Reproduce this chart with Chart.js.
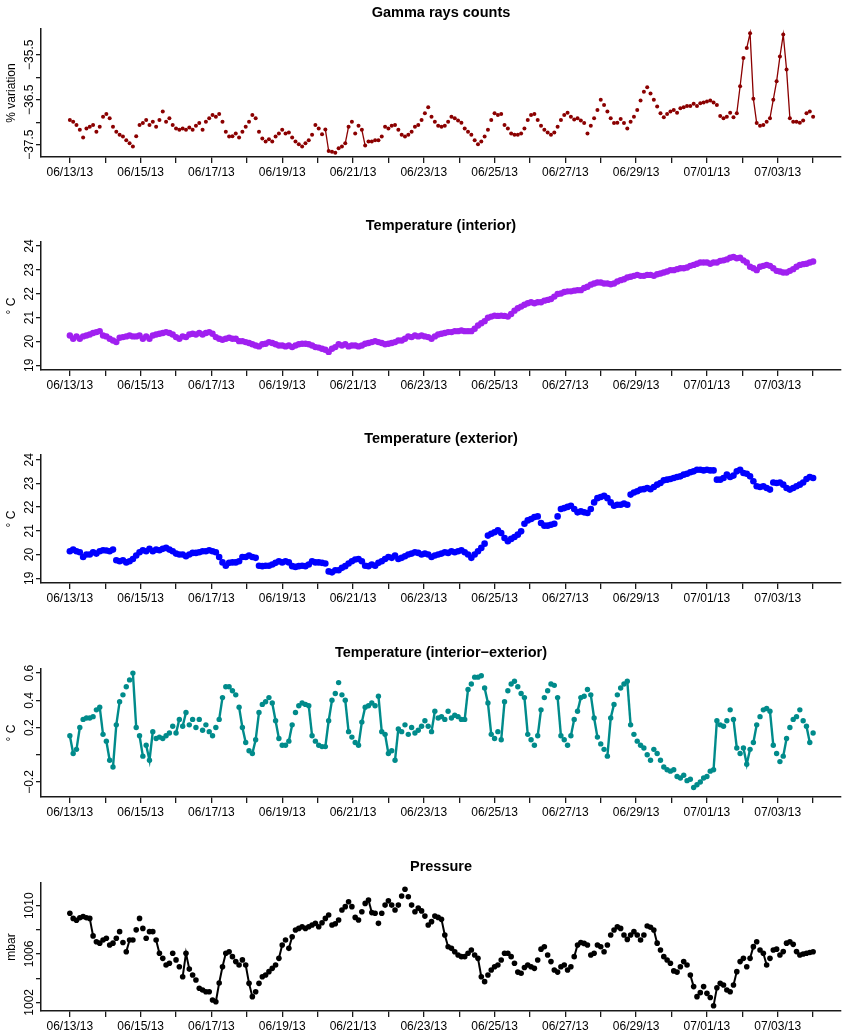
<!DOCTYPE html>
<html>
<head>
<meta charset="utf-8">
<title>Sensor panels</title>
<script src="https://cdn.jsdelivr.net/npm/chart.js@4.4.0/dist/chart.umd.min.js"></script>
<style>
  html, body { margin: 0; padding: 0; background: #fff; width: 842px; height: 1034px; overflow: hidden; }
  canvas { position: absolute; left: 0; }
</style>
</head>
<body>
<canvas id="gamma" width="845" height="186" style="top:1px"></canvas>
<canvas id="tin" width="845" height="186" style="top:214px"></canvas>
<canvas id="tout" width="845" height="186" style="top:427px"></canvas>
<canvas id="tdiff" width="845" height="186" style="top:641px"></canvas>
<canvas id="press" width="845" height="186" style="top:855px"></canvas>
<script>
// date ticks, one per day starting 06/13/13 (only every other one gets a label)
const dayLabels = ['06/13/13', '06/14/13', '06/15/13', '06/16/13', '06/17/13', '06/18/13',
  '06/19/13', '06/20/13', '06/21/13', '06/22/13', '06/23/13', '06/24/13', '06/25/13',
  '06/26/13', '06/27/13', '06/28/13', '06/29/13', '06/30/13', '07/01/13', '07/02/13',
  '07/03/13', '07/04/13'];

// readings every 2.25 h from 06/13/13 00:00
const STEP_HOURS = 2.25;

const gammaCounts = [
  -36.95, -36.99, -37.06, -37.17, -37.34, -37.14, -37.10, -37.06, -37.21, -37.10,
  -36.88, -36.82, -36.91, -37.10, -37.21, -37.28, -37.32, -37.40, -37.47, -37.54,
  -37.31, -37.06, -37.02, -36.95, -37.06, -36.99, -37.10, -36.95, -36.76, -36.99,
  -36.91, -37.06, -37.14, -37.17, -37.14, -37.17, -37.12, -37.17, -37.08, -37.02,
  -37.17, -36.99, -36.91, -36.84, -36.88, -36.82, -36.99, -37.21, -37.32, -37.31,
  -37.25, -37.34, -37.21, -37.10, -36.99, -36.84, -36.91, -37.21, -37.36, -37.43,
  -37.38, -37.43, -37.32, -37.25, -37.17, -37.25, -37.23, -37.34, -37.43, -37.49,
  -37.54, -37.47, -37.40, -37.28, -37.06, -37.14, -37.27, -37.16, -37.64, -37.66,
  -37.68, -37.58, -37.54, -37.47, -37.10, -36.99, -37.25, -37.08, -37.17, -37.52,
  -37.43, -37.43, -37.40, -37.40, -37.32, -37.10, -37.14, -37.08, -37.06, -37.17,
  -37.28, -37.32, -37.28, -37.21, -37.10, -37.06, -36.95, -36.80, -36.67, -36.88,
  -36.99, -37.08, -37.10, -37.08, -36.99, -36.88, -36.91, -36.96, -37.01, -37.14,
  -37.21, -37.28, -37.40, -37.49, -37.43, -37.32, -37.17, -36.95, -36.80, -36.84,
  -36.82, -37.06, -37.14, -37.25, -37.28, -37.28, -37.25, -37.14, -36.95, -36.84,
  -36.82, -36.95, -37.08, -37.17, -37.23, -37.28, -37.23, -37.10, -36.95, -36.84,
  -36.79, -36.88, -36.94, -36.91, -36.96, -37.02, -37.25, -37.08, -36.91, -36.73,
  -36.50, -36.62, -36.76, -36.91, -37.02, -37.01, -36.93, -37.02, -37.14, -36.99,
  -36.88, -36.73, -36.52, -36.32, -36.22, -36.36, -36.50, -36.65, -36.80, -36.89,
  -36.82, -36.76, -36.73, -36.79, -36.69, -36.67, -36.64, -36.64, -36.59, -36.64,
  -36.58, -36.56, -36.54, -36.52, -36.56, -36.62, -36.86, -36.91, -36.88, -36.79,
  -36.89, -36.80, -36.20, -35.57, -35.35, -35.02, -36.48, -37.02, -37.08, -37.06,
  -36.99, -36.91, -36.50, -36.09, -35.54, -35.05, -35.83, -36.91, -36.99, -36.99,
  -37.01, -36.96, -36.80, -36.76, -36.88
];

const tempInterior = [
  20.25, 20.11, 20.21, 20.11, 20.21, 20.25, 20.29, 20.35, 20.39, 20.43,
  20.25, 20.21, 20.11, 20.04, 19.97, 20.15, 20.18, 20.21, 20.25, 20.21,
  20.21, 20.25, 20.11, 20.21, 20.11, 20.25, 20.29, 20.32, 20.35, 20.39,
  20.35, 20.29, 20.18, 20.11, 20.21, 20.18, 20.29, 20.32, 20.29, 20.35,
  20.29, 20.35, 20.39, 20.32, 20.18, 20.11, 20.07, 20.11, 20.15, 20.11,
  20.11, 20.01, 20.01, 19.97, 19.93, 19.88, 19.83, 19.79, 19.88, 19.90,
  19.97, 19.93, 19.88, 19.83, 19.83, 19.79, 19.83, 19.76, 19.83, 19.88,
  19.90, 19.90, 19.88, 19.83, 19.76, 19.74, 19.69, 19.65, 19.56, 19.69,
  19.76, 19.88, 19.83, 19.88, 19.79, 19.83, 19.83, 19.79, 19.83, 19.90,
  19.93, 19.97, 20.01, 19.97, 19.93, 19.88, 19.90, 19.93, 19.97, 20.04,
  20.04, 20.11, 20.21, 20.18, 20.25, 20.21, 20.25, 20.21, 20.18, 20.11,
  20.21, 20.29, 20.32, 20.35, 20.39, 20.39, 20.43, 20.43, 20.46, 20.43,
  20.43, 20.43, 20.53, 20.67, 20.76, 20.85, 20.99, 21.04, 21.08, 21.07,
  21.08, 21.07, 21.04, 21.15, 21.29, 21.39, 21.46, 21.54, 21.60, 21.64,
  21.60, 21.64, 21.64, 21.71, 21.74, 21.78, 21.88, 21.99, 22.01, 22.07,
  22.10, 22.10, 22.13, 22.15, 22.15, 22.24, 22.29, 22.38, 22.43, 22.47,
  22.47, 22.43, 22.43, 22.40, 22.43, 22.51, 22.57, 22.61, 22.68, 22.71,
  22.75, 22.79, 22.75, 22.75, 22.79, 22.79, 22.75, 22.82, 22.85, 22.89,
  22.93, 22.99, 22.99, 23.03, 23.07, 23.07, 23.10, 23.17, 23.21, 23.26,
  23.31, 23.31, 23.31, 23.26, 23.31, 23.31, 23.38, 23.40, 23.44, 23.51,
  23.54, 23.49, 23.51, 23.40, 23.31, 23.13, 23.07, 22.99, 23.13, 23.17,
  23.21, 23.17, 23.07, 22.96, 22.93, 22.89, 22.89, 22.96, 23.03, 23.13,
  23.21, 23.24, 23.26, 23.31, 23.35
];

const tempExterior = [
  20.14, 20.21, 20.14, 20.10, 19.90, 20.00, 20.00, 20.10, 20.04, 20.14,
  20.18, 20.17, 20.14, 20.21, 19.76, 19.72, 19.76, 19.67, 19.72, 19.81,
  19.96, 20.10, 20.18, 20.14, 20.24, 20.14, 20.21, 20.18, 20.24, 20.28,
  20.21, 20.14, 20.04, 20.00, 20.00, 19.93, 20.00, 20.07, 20.07, 20.10,
  20.14, 20.14, 20.18, 20.14, 20.10, 19.90, 19.67, 19.53, 19.65, 19.67,
  19.67, 19.72, 19.90, 19.90, 19.96, 19.90, 19.86, 19.53, 19.51, 19.53,
  19.53, 19.58, 19.65, 19.72, 19.67, 19.72, 19.67, 19.51, 19.48, 19.51,
  19.53, 19.51, 19.58, 19.72, 19.67, 19.67, 19.65, 19.62, 19.29, 19.25,
  19.34, 19.34, 19.44, 19.51, 19.62, 19.72, 19.79, 19.81, 19.72, 19.53,
  19.51, 19.58, 19.53, 19.65, 19.72, 19.81, 19.90, 19.86, 19.96, 19.81,
  19.86, 19.93, 20.00, 20.04, 20.10, 20.07, 20.00, 20.04, 20.00, 19.90,
  19.96, 20.00, 20.04, 20.10, 20.07, 20.14, 20.10, 20.14, 20.18, 20.10,
  20.00, 19.86, 20.00, 20.14, 20.28, 20.46, 20.80, 20.88, 20.94, 21.02,
  20.91, 20.70, 20.56, 20.66, 20.74, 20.84, 20.98, 21.30, 21.44, 21.50,
  21.58, 21.61, 21.33, 21.22, 21.22, 21.26, 21.30, 21.61, 21.92, 21.96,
  22.01, 22.06, 21.92, 21.78, 21.82, 21.78, 21.75, 21.92, 22.20, 22.38,
  22.43, 22.48, 22.38, 22.20, 22.06, 22.10, 22.10, 22.15, 22.10, 22.53,
  22.62, 22.67, 22.74, 22.76, 22.81, 22.76, 22.85, 22.95, 23.02, 23.13,
  23.16, 23.19, 23.23, 23.27, 23.30, 23.37, 23.41, 23.47, 23.51, 23.58,
  23.58, 23.55, 23.58, 23.55, 23.55, 23.16, 23.16, 23.23, 23.37, 23.27,
  23.33, 23.51, 23.58, 23.44, 23.41, 23.30, 23.09, 22.88, 22.85, 22.88,
  22.81, 22.74, 23.04, 23.02, 23.04, 22.95, 22.81, 22.74, 22.81, 22.88,
  22.95, 23.04, 23.19, 23.27, 23.23
];

const tempDiff = [
  0.14, 0.01, 0.04, 0.20, 0.26, 0.27, 0.27, 0.28, 0.33, 0.35,
  0.15, 0.10, -0.04, -0.09, 0.22, 0.39, 0.44, 0.50, 0.55, 0.60,
  0.20, 0.14, -0.01, 0.07, -0.04, 0.17, 0.12, 0.13, 0.12, 0.14,
  0.16, 0.21, 0.16, 0.26, 0.21, 0.31, 0.22, 0.26, 0.20, 0.26,
  0.18, 0.22, 0.17, 0.14, 0.20, 0.26, 0.42, 0.50, 0.50, 0.47,
  0.44, 0.35, 0.20, 0.09, 0.03, 0.01, 0.11, 0.31, 0.37, 0.39,
  0.42, 0.38, 0.25, 0.12, 0.07, 0.07, 0.10, 0.22, 0.31, 0.36,
  0.38, 0.37, 0.36, 0.14, 0.10, 0.07, 0.06, 0.06, 0.25, 0.40,
  0.45, 0.53, 0.44, 0.40, 0.17, 0.13, 0.09, 0.07, 0.24, 0.35,
  0.36, 0.38, 0.36, 0.43, 0.17, 0.15, 0.01, 0.03, -0.04, 0.19,
  0.17, 0.22, 0.15, 0.20, 0.16, 0.18, 0.21, 0.25, 0.21, 0.17,
  0.32, 0.27, 0.28, 0.26, 0.32, 0.27, 0.29, 0.28, 0.26, 0.26,
  0.48, 0.52, 0.57, 0.57, 0.58, 0.49, 0.38, 0.15, 0.12, 0.17,
  0.11, 0.39, 0.47, 0.52, 0.54, 0.50, 0.45, 0.42, 0.15, 0.11,
  0.07, 0.14, 0.33, 0.42, 0.47, 0.52, 0.51, 0.42, 0.14, 0.11,
  0.07, 0.14, 0.26, 0.32, 0.42, 0.43, 0.48, 0.44, 0.27, 0.13,
  0.08, 0.04, -0.01, 0.27, 0.37, 0.44, 0.49, 0.52, 0.54, 0.22,
  0.15, 0.10, 0.07, 0.05, 0.00, -0.04, 0.04, 0.01, -0.04, -0.09,
  -0.11, -0.12, -0.11, -0.16, -0.17, -0.15, -0.19, -0.18, -0.24, -0.22,
  -0.20, -0.17, -0.16, -0.12, -0.11, 0.25, 0.22, 0.21, 0.25, 0.33,
  0.26, 0.05, 0.01, 0.05, -0.07, 0.04, 0.09, 0.22, 0.28, 0.33,
  0.34, 0.32, 0.07, 0.01, -0.05, -0.01, 0.12, 0.20, 0.26, 0.28,
  0.33, 0.25, 0.21, 0.09, 0.16
];

const pressure = [
  1009.37, 1008.95, 1008.80, 1009.00, 1009.10, 1009.00, 1008.95, 1007.50, 1007.02, 1006.90,
  1007.16, 1007.30, 1006.74, 1006.90, 1007.30, 1007.85, 1006.95, 1006.19, 1007.16, 1007.16,
  1008.00, 1008.95, 1008.12, 1007.30, 1007.85, 1007.85, 1007.16, 1006.06, 1005.64, 1005.09,
  1005.23, 1006.06, 1005.51, 1004.95, 1004.12, 1006.06, 1004.75, 1004.26, 1003.85, 1003.16,
  1003.02, 1002.88, 1002.88, 1002.19, 1002.05, 1003.60, 1004.95, 1006.06, 1006.19, 1005.78,
  1005.37, 1005.09, 1005.51, 1005.09, 1003.57, 1002.47, 1002.88, 1003.57, 1004.12, 1004.26,
  1004.54, 1004.81, 1005.09, 1005.64, 1006.74, 1007.16, 1006.47, 1007.43, 1007.99, 1008.12,
  1008.26, 1008.12, 1008.26, 1008.40, 1008.54, 1008.26, 1008.59, 1008.95, 1009.23, 1008.40,
  1008.50, 1008.81, 1009.64, 1009.92, 1010.33, 1009.92, 1009.03, 1008.81, 1009.50, 1010.19,
  1010.47, 1009.43, 1009.37, 1008.54, 1009.37, 1010.05, 1010.40, 1010.05, 1009.64, 1010.05,
  1010.80, 1011.36, 1010.74, 1010.05, 1009.50, 1009.80, 1009.57, 1009.14, 1008.40, 1008.68,
  1009.14, 1009.03, 1008.87, 1007.57, 1006.60, 1006.47, 1006.19, 1005.92, 1005.78, 1005.78,
  1006.06, 1006.33, 1005.92, 1005.64, 1004.12, 1003.71, 1004.26, 1004.68, 1004.95, 1005.09,
  1005.50, 1006.06, 1006.06, 1005.78, 1005.23, 1004.50, 1004.40, 1004.88, 1005.09, 1004.95,
  1004.81, 1005.50, 1006.40, 1006.60, 1005.92, 1005.37, 1004.68, 1004.50, 1004.95, 1005.09,
  1004.68, 1004.95, 1005.78, 1006.74, 1006.95, 1006.88, 1006.74, 1005.92, 1006.06, 1006.74,
  1006.60, 1006.19, 1006.74, 1007.57, 1007.99, 1008.26, 1008.12, 1007.57, 1007.21, 1007.57,
  1007.85, 1007.57, 1007.16, 1007.57, 1008.32, 1008.21, 1007.99, 1006.90, 1006.33, 1005.78,
  1005.50, 1005.23, 1004.60, 1004.50, 1004.95, 1005.37, 1005.09, 1004.26, 1003.30, 1002.47,
  1002.80, 1003.30, 1002.74, 1002.40, 1001.72, 1003.20, 1003.57, 1003.43, 1003.02, 1002.88,
  1003.43, 1004.54, 1005.37, 1005.64, 1004.95, 1005.64, 1006.61, 1007.02, 1006.33, 1006.06,
  1005.09, 1005.64, 1006.33, 1006.40, 1005.92, 1006.20, 1006.90, 1007.02, 1006.80, 1006.20,
  1005.92, 1006.00, 1006.06, 1006.12, 1006.19
];

// y ticks (R leaves some ticks unlabelled)
const gammaTicks = [-37.5, -37, -36.5, -36, -35.5];
const gammaTickLabels = ['\u221237.5', '', '\u221236.5', '', '\u221235.5'];
const tempTicks = [19, 20, 21, 22, 23, 24];
const tempTickLabels = ['19', '20', '21', '22', '23', '24'];
const diffTicks = [-0.2, 0, 0.2, 0.4, 0.6];
const diffTickLabels = ['\u22120.2', '', '0.2', '0.4', '0.6'];
const pressTicks = [1002, 1004, 1006, 1008, 1010];
const pressTickLabels = ['1002', '', '1006', '', '1010'];

const FONT = '"Liberation Sans", Arial, Helvetica, sans-serif';
Chart.defaults.font.family = FONT;
Chart.defaults.font.size = 12;
Chart.defaults.color = '#000';

// titles, y labels and rotated y tick labels, R style
const panelText = {
    id: 'panelText',
    afterDraw(chart, args, opts) {
        const { ctx, chartArea, scales } = chart;
        ctx.save();
        ctx.fillStyle = '#000';
        ctx.textAlign = 'center';
        ctx.textBaseline = 'middle';
        ctx.font = 'bold 14.5px ' + FONT;
        ctx.fillText(opts.title, (chartArea.left + chartArea.right) / 2, chartArea.top - 16);

        ctx.font = '12px ' + FONT;
        opts.ticks.forEach((v, i) => {
            const lab = opts.tickLabels[i];
            if (!lab) return;
            ctx.save();
            ctx.translate(30, scales.y.getPixelForValue(v));
            ctx.rotate(-Math.PI / 2);
            ctx.fillText(lab, 0, 0);
            ctx.restore();
        });

        ctx.translate(12, (chartArea.top + chartArea.bottom) / 2);
        ctx.rotate(-Math.PI / 2);
        ctx.fillText(opts.yTitle, 0, 0);
        ctx.restore();
    }
};

// like R type="b": short segments are hidden behind the points
function gapColor(color, minLen) {
    return ctx => {
        const d = Math.hypot(ctx.p1.x - ctx.p0.x, ctx.p1.y - ctx.p0.y);
        return d > minLen ? color : 'rgba(0,0,0,0)';
    };
}

const AXIS = '#1a1a1a';

function makePanel(id, p) {
    const pts = p.values.map((v, i) => ({ x: i * STEP_HOURS / 24, y: v }));
    return new Chart(document.getElementById(id), {
        type: 'line',
        data: {
            datasets: [{
                data: pts,
                showLine: p.line,
                borderColor: p.color,
                borderWidth: p.lineWidth,
                pointRadius: p.radius,
                pointBorderWidth: 0,
                pointBackgroundColor: p.color,
                tension: 0,
                segment: { borderColor: gapColor(p.color, p.gap) }
            }]
        },
        options: {
            responsive: false,
            animation: false,
            events: [],
            layout: { padding: { top: 28, left: 0, right: 0, bottom: 0 } },
            plugins: {
                legend: { display: false },
                tooltip: { enabled: false },
                panelText: { title: p.title, yTitle: p.yTitle, ticks: p.ticks, tickLabels: p.tickLabels }
            },
            scales: {
                x: {
                    type: 'linear',
                    min: -0.8153,
                    max: 21.788,
                    afterBuildTicks: s => { s.ticks = dayLabels.map((_, d) => ({ value: d })); },
                    afterFit: s => { s.height = 30; },
                    ticks: {
                        autoSkip: false,
                        maxRotation: 0,
                        padding: 2,
                        color: '#000',
                        callback: v => (v % 2 === 0 ? dayLabels[v] : '')
                    },
                    grid: { drawOnChartArea: false, drawTicks: true, tickLength: 6, color: AXIS, lineWidth: 1.3 },
                    border: { display: true, color: AXIS, width: 1.5 }
                },
                y: {
                    type: 'linear',
                    min: p.min,
                    max: p.max,
                    afterBuildTicks: s => { s.ticks = p.ticks.map(v => ({ value: v })); },
                    afterFit: s => { s.width = 41; },
                    ticks: { display: false },
                    grid: { drawOnChartArea: false, drawTicks: true, tickLength: 5, color: AXIS, lineWidth: 1.3 },
                    border: { display: true, color: AXIS, width: 1.5 }
                }
            }
        },
        plugins: [panelText]
    });
}

makePanel('gamma', {
    title: 'Gamma rays counts', yTitle: '% variation', values: gammaCounts,
    color: '#8B0000', radius: 2, lineWidth: 1.3, line: true, gap: 15,
    min: -37.774, max: -34.927, ticks: gammaTicks, tickLabels: gammaTickLabels
});
makePanel('tin', {
    title: 'Temperature (interior)', yTitle: '\u00b0 C', values: tempInterior,
    color: '#A020F0', radius: 3.2, lineWidth: 2, line: false, gap: 9,
    min: 18.8, max: 24.17, ticks: tempTicks, tickLabels: tempTickLabels
});
makePanel('tout', {
    title: 'Temperature (exterior)', yTitle: '\u00b0 C', values: tempExterior,
    color: '#0000FF', radius: 3.3, lineWidth: 2, line: false, gap: 9,
    min: 18.8, max: 24.2, ticks: tempTicks, tickLabels: tempTickLabels
});
makePanel('tdiff', {
    title: 'Temperature (interior\u2212exterior)', yTitle: '\u00b0 C', values: tempDiff,
    color: '#008B8B', radius: 2.7, lineWidth: 2.4, line: true, gap: 14,
    min: -0.31, max: 0.63, ticks: diffTicks, tickLabels: diffTickLabels
});
makePanel('press', {
    title: 'Pressure', yTitle: 'mbar', values: pressure,
    color: '#000000', radius: 2.8, lineWidth: 2, line: true, gap: 12,
    min: 1001.28, max: 1011.88, ticks: pressTicks, tickLabels: pressTickLabels
});
</script>
</body>
</html>
